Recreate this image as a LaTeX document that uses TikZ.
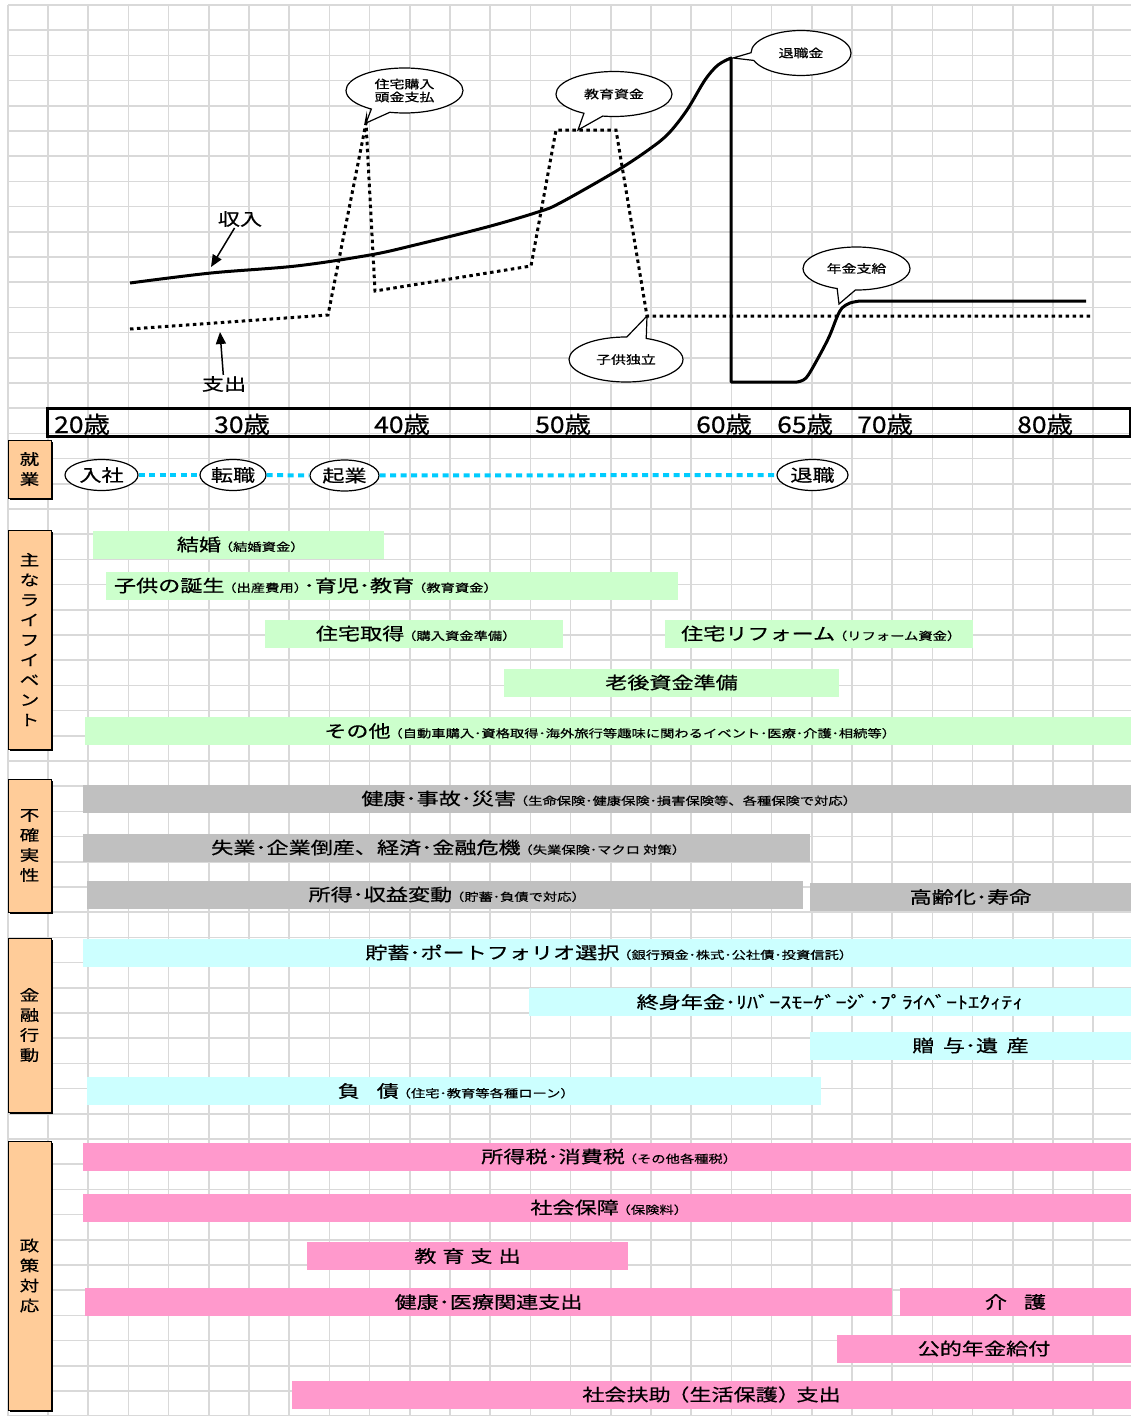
\documentclass[tikz,border=0pt]{standalone}
\usepackage{fontspec}
\setmainfont{Noto Sans CJK JP}[FakeStretch=1.3, FakeBold=0.6]
\newfontfamily\agefont{Noto Sans CJK JP}[FakeStretch=1.15, FakeBold=0.6]
\usepackage{xcolor}
\definecolor{gridgray}{RGB}{217,217,217}
\definecolor{evgreen}{RGB}{204,255,204}
\definecolor{riskgray}{RGB}{192,192,192}
\definecolor{fincyan}{RGB}{204,255,255}
\definecolor{polpink}{RGB}{255,153,204}
\definecolor{catpeach}{RGB}{255,204,153}
\definecolor{jobblue}{RGB}{0,204,255}
\usepackage{tikz}
\usetikzlibrary{arrows.meta, positioning, shapes.geometric, shapes.callouts, shadows}

\newcommand{\bigtxt}{\fontsize{17}{20}\selectfont}
\newcommand{\smltxt}{\fontsize{11}{13}\selectfont}
% small bracketed note after a heading
\newcommand{\note}[1]{{\smltxt\kern-0.2em（#1）\kern-0.4em}}

\begin{document}
\begin{tikzpicture}[x=1pt, y=-1pt,
    gridline/.style={gridgray, line width=1.5pt},
    timebar/.style={inner sep=0pt, minimum height=28pt, font=\bigtxt},
    evbar/.style={timebar, fill=evgreen},
    riskbar/.style={timebar, fill=riskgray},
    finbar/.style={timebar, fill=fincyan},
    polbar/.style={timebar, fill=polpink},
    catbox/.style={draw, line width=1pt, fill=catpeach, minimum width=43pt, inner sep=0pt,
        align=center, font=\fontsize{15}{20}\selectfont,
        general shadow={fill=black, shadow xshift=1.5pt, shadow yshift=-1.5pt}},
    jobnode/.style={draw, ellipse, line width=1.2pt, fill=white, inner sep=0pt,
        minimum height=31pt, font=\bigtxt},
    jobline/.style={jobblue, line width=4pt, dash pattern=on 6pt off 4.5pt},
    bubble/.style={draw, ellipse callout, line width=1.2pt, fill=white, inner sep=0pt,
        callout pointer arc=20, align=center, font=\fontsize{11.5}{13}\selectfont},
    incline/.style={line width=3pt, line join=round},
    expline/.style={line width=3pt, dash pattern=on 3.5pt off 3.5pt},
    agelbl/.style={anchor=base west, inner sep=0pt, font=\agefont\fontsize{23}{25}\selectfont},
    lblarrow/.style={line width=1.5pt, -{Triangle[length=12pt, width=10pt]}},
]
\useasboundingbox (0,0) rectangle (1131,1416);
\fill[white] (0,0) rectangle (1131,1416);

% === Sheet grid ===
\draw[gridline] (8,5) -- (8,1416);
\foreach \k in {0,...,26} {
    \draw[gridline] ({48+40.2*\k},5) -- ({48+40.2*\k},1416);
}
\foreach \k in {0,...,56} {
    \draw[gridline] (8,{5+25.2*\k}) -- (1131,{5+25.2*\k});
}

% === Income / expense chart ===
\coordinate (incpt) at (211,267);
\coordinate (taishokupt) at (733,58);
\coordinate (nenkinpt) at (839,304);
\coordinate (exppt) at (220,332);
\coordinate (jhpeak) at (366,123);
\coordinate (edupt) at (578,130);
\coordinate (childpt) at (647,316);

% income
\draw[incline] plot[smooth, tension=0.55] coordinates {(130,283) (211,273) (296,266)
    (370,255) (415,245) (487,227) (538,212) (560,203) (618,170) (651,148) (669,133)
    (687,110) (705,80) (718,65) (731,58)}
  -- (731,382) -- (797,382)
  -- plot[smooth, tension=0.55] coordinates {(797,382) (806,378) (817,360) (829,337)
    (837,317) (842,308) (850,303) (860,301)}
  -- (1086,301);

% expense
\draw[expline] (130,329) -- (328,315) -- (jhpeak) -- (375,291) -- (531,266)
  -- (556,130) -- (616,130) -- (childpt) -- (1093,316);

\node[font=\bigtxt, inner sep=1pt] (shunyu) at (240,219) {収入};
\draw[lblarrow] (shunyu) -- (incpt);
\node[font=\bigtxt, inner sep=1pt] (shishutsu) at (224,384) {支出};
\draw[lblarrow] (shishutsu) -- (exppt);

% callouts
\node[bubble, minimum width=117pt, minimum height=45pt, callout absolute pointer={(jhpeak)}]
    (jutakubub) at (404.5,90.5) {住宅購入\\頭金支払};
\node[bubble, minimum width=116pt, minimum height=45pt, callout absolute pointer={(edupt)}]
    (kyoikubub) at (614,94) {教育資金};
\node[bubble, minimum width=100pt, minimum height=45pt, callout absolute pointer={(taishokupt)}]
    (taishokubub) at (801,53) {退職金};
\node[bubble, minimum width=107pt, minimum height=43pt, callout absolute pointer={(nenkinpt)}]
    (nenkinbub) at (856.5,268.5) {年金支給};
\node[bubble, minimum width=114pt, minimum height=45pt, callout absolute pointer={(childpt)}]
    (dokuritsubub) at (626,359.5) {子供独立};

% === Age axis ===
\node[draw, line width=3pt, minimum width=1083pt, minimum height=28pt, inner sep=0pt]
    (agebar) at (588.5,422) {};
\node[agelbl] (age20) at (54,433) {20歳};
\node[agelbl] (age30) at (214,433) {30歳};
\node[agelbl] (age40) at (374,433) {40歳};
\node[agelbl] (age50) at (535,433) {50歳};
\node[agelbl] (age60) at (696,433) {60歳};
\node[agelbl] (age65) at (777,433) {65歳};
\node[agelbl] (age70) at (857,433) {70歳};
\node[agelbl] (age80) at (1017,433) {80歳};

% === Row headers ===
\node[catbox, minimum height=58pt] (shugyo) at (29.5,469) {就\\業};
\node[catbox, minimum height=219pt] (event) at (29.5,639.5) {主\\な\\ラ\\イ\\フ\\イ\\ベ\\ン\\ト};
\node[catbox, minimum height=133pt] (fukakujitsu) at (29.5,845.5) {不\\確\\実\\性};
\node[catbox, minimum height=174pt] (kinyu) at (29.5,1025) {金\\融\\行\\動};
\node[catbox, minimum height=269pt] (seisaku) at (29.5,1275.5) {政\\策\\対\\応};

% === Employment ===
\node[jobnode, minimum width=73pt] (nyusha) at (101.5,475) {入社};
\node[jobnode, minimum width=66pt] (tenshoku) at (233,475) {転職};
\node[jobnode, minimum width=69pt] (kigyo) at (344.5,475.5) {起業};
\node[jobnode, minimum width=71pt] (taishoku) at (812.5,475) {退職};
\draw[jobline] (nyusha) -- (tenshoku);
\draw[jobline] (tenshoku) -- (kigyo);
\draw[jobline] (kigyo) -- (taishoku);

% === Life events ===
\node[evbar, minimum width=291pt] (kekkon) at (238.5,544.5) {結婚\note{結婚資金}};
\node[evbar, text width=556pt, inner xsep=8pt, align=left] (kodomo) at (392,585.5)
    {子供の誕生\note{出産費用}･育児･教育\note{教育資金}};
\node[evbar, minimum width=298pt] (jutaku) at (414,633.5) {住宅取得\note{購入資金準備}};
\node[evbar, minimum width=308pt] (reform) at (819,633.5) {住宅リフォーム\note{リフォーム資金}};
\node[evbar, minimum width=335pt] (rougo) at (671.5,682.5) {老後資金準備};
\node[evbar, minimum width=1046pt] (sonota) at (608,731)
    {その他\note{自動車購入･資格取得･海外旅行等趣味に関わるイベント･医療･介護･相続等}};

% === Uncertainty ===
\node[riskbar, minimum width=1048pt] (kenko) at (607,798.5)
    {健康･事故･災害\note{生命保険･健康保険･損害保険等、各種保険で対応}};
\node[riskbar, minimum width=727pt] (shitsugyo) at (446.5,847.5)
    {失業･企業倒産、経済･金融危機\note{失業保険･マクロ 対策}};
\node[riskbar, minimum width=716pt] (shotoku) at (445,894.5) {所得･収益変動\note{貯蓄･負債で対応}};
\node[riskbar, minimum width=321pt] (koreika) at (970.5,897) {高齢化･寿命};

% === Financial behaviour ===
\node[finbar, minimum width=1048pt] (chochiku) at (607,952.5)
    {貯蓄･ポートフォリオ選択\note{銀行預金･株式･公社債･投資信託}};
\node[finbar, minimum width=602pt] (shushin) at (830,1002) {終身年金･ﾘﾊﾞｰｽﾓｰｹﾞｰｼﾞ･ﾌﾟﾗｲﾍﾞｰﾄｴｸｨﾃｨ};
\node[finbar, minimum width=321pt] (zoyo) at (970.5,1045.5) {贈\hspace{0.5em}与･遺\hspace{0.5em}産};
\node[finbar, minimum width=734pt] (fusai) at (454,1091) {負\hspace{1em}債\note{住宅･教育等各種ローン}};

% === Policy ===
\node[polbar, minimum width=1048pt] (zei) at (607,1156.5) {所得税･消費税\note{その他各種税}};
\node[polbar, minimum width=1048pt] (shaho) at (607,1207.5) {社会保障\note{保険料}};
\node[polbar, minimum width=321pt] (kyoiku) at (467.5,1256)
    {教\hspace{0.35em}育\hspace{0.35em}支\hspace{0.35em}出};
\node[polbar, minimum width=807pt] (iryo) at (488.5,1302) {健康･医療関連支出};
\node[polbar, minimum width=231pt] (kaigo) at (1015.5,1302) {介\hspace{1em}護};
\node[polbar, minimum width=294pt] (nenkin) at (984,1348.5) {公的年金給付};
\node[polbar, minimum width=839pt] (fujo) at (711.5,1394.5) {社会扶助\kern-0.2em（生活保護）\kern-0.2em支出};

\end{tikzpicture}
\end{document}
